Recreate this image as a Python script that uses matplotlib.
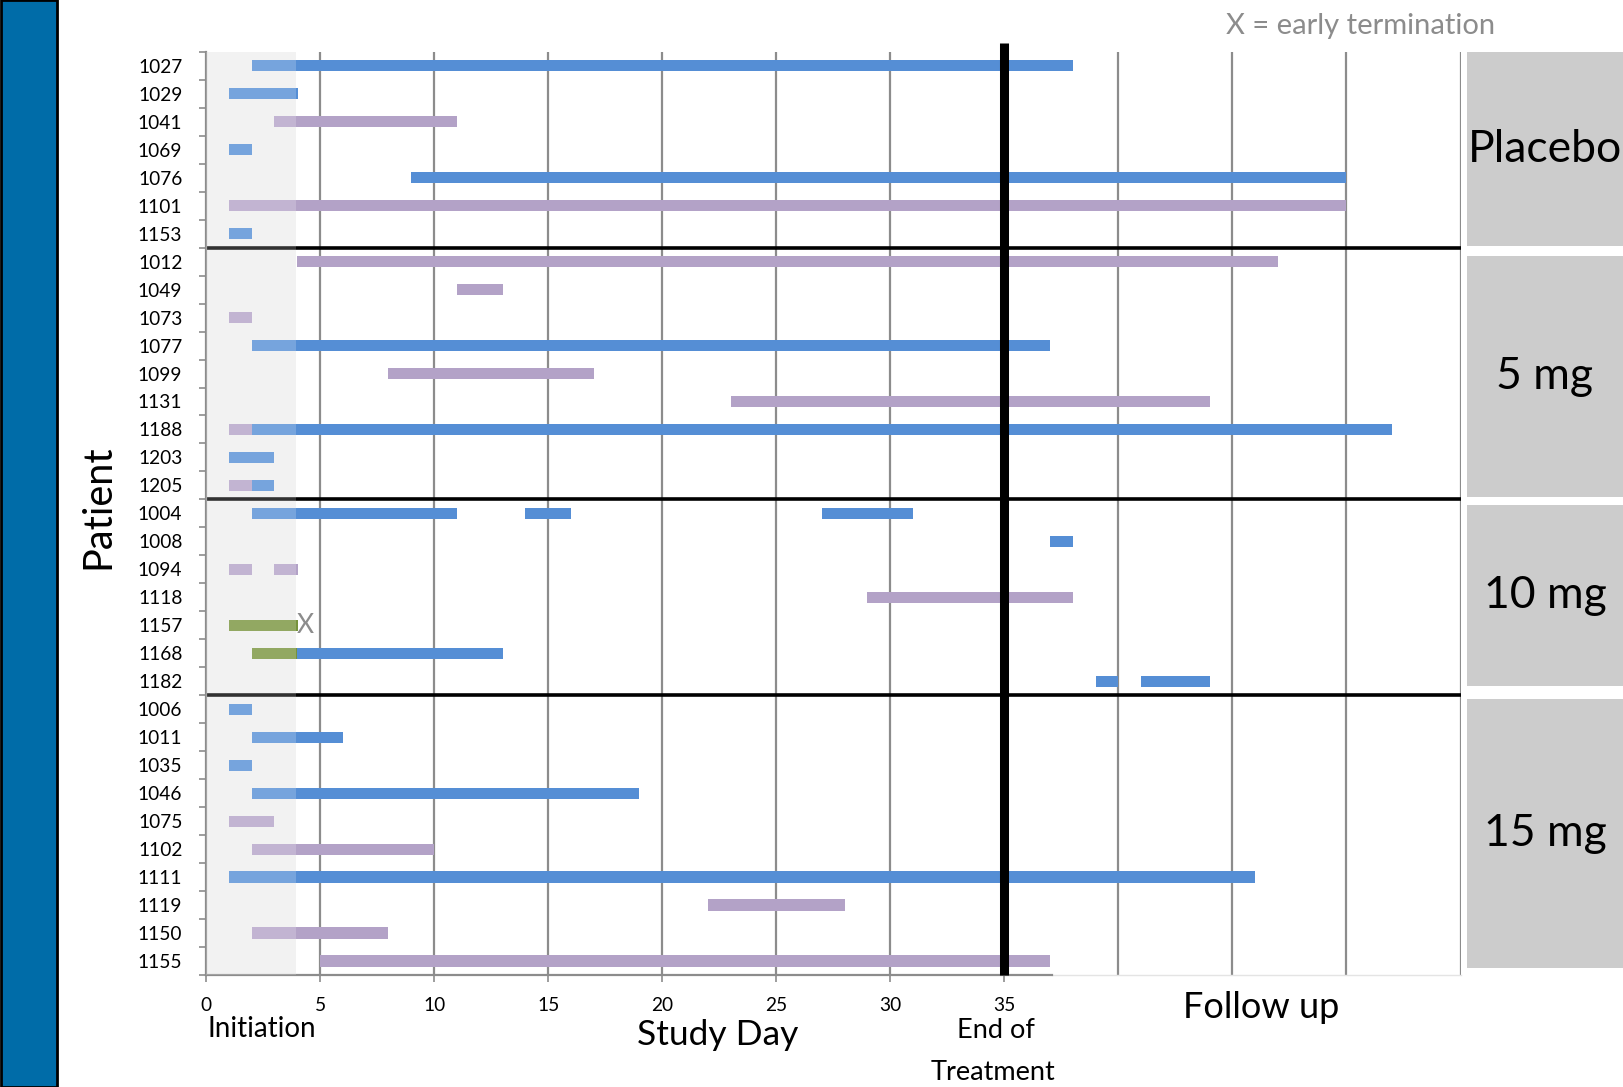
import matplotlib.pyplot as plt
from matplotlib.patches import Rectangle
import numpy as np

plt.rcParams['font.family'] = ['Lato', 'DejaVu Sans']

# patients in display order (top to bottom)
patients = ['1027', '1029', '1041', '1069', '1076', '1101', '1153',
            '1012', '1049', '1073', '1077', '1099', '1131', '1188', '1203', '1205',
            '1004', '1008', '1094', '1118', '1157', '1168', '1182',
            '1006', '1011', '1035', '1046', '1075', '1102', '1111', '1119', '1150', '1155']
groups = ['Placebo', '5 mg', '10 mg', '15 mg']
group_sizes = [7, 9, 7, 10]

# dosing segments: patient, start day, end day, colour kind
seg_patient = ['1027', '1029', '1041', '1069', '1076', '1101', '1153',
               '1012', '1049', '1073', '1077', '1099', '1131', '1188', '1188', '1203', '1205', '1205',
               '1004', '1004', '1004', '1008', '1094', '1094', '1118', '1157', '1168', '1168', '1182', '1182',
               '1006', '1011', '1035', '1046', '1075', '1102', '1111', '1119', '1150', '1155']
seg_start = [2, 1, 3, 1, 9, 1, 1,
             4, 11, 1, 2, 8, 23, 1, 2, 1, 1, 2,
             2, 14, 27, 37, 1, 3, 29, 1, 2, 4, 39, 41,
             1, 2, 1, 2, 1, 2, 1, 22, 2, 5]
seg_end = [38, 4.05, 11, 2, 50, 50, 2,
           47, 13, 2, 37, 17, 44, 2, 52, 3, 2, 3,
           11, 16, 31, 38, 2, 4.05, 38, 4.05, 4, 13, 40, 44,
           2, 6, 2, 19, 3, 10, 46, 28, 8, 37]
seg_kind = ['blue', 'blue', 'purple', 'blue', 'blue', 'purple', 'blue',
            'purple', 'purple', 'purple', 'blue', 'purple', 'purple', 'purple', 'blue', 'blue', 'purple', 'blue',
            'blue', 'blue', 'blue', 'blue', 'purple', 'purple', 'purple', 'green', 'green', 'blue', 'blue', 'blue',
            'blue', 'blue', 'blue', 'blue', 'purple', 'purple', 'blue', 'purple', 'purple', 'purple']

x_ticks = [0, 5, 10, 15, 20, 25, 30, 35]
grid_days = [5, 10, 15, 20, 25, 30, 35, 40, 45, 50, 55]
init_end = 3.95
eot_day = 35
early_term = ['1157']
early_term_day = 4.35

colors = {'blue': '#558ed5', 'purple': '#b3a2c7', 'green': '#77933c'}

W, H = 1623, 1087
fig = plt.figure(figsize=(W / 100, H / 100), dpi=100)

def fx(x):
    return x / W

def fy(y):
    return 1 - y / H

ax = fig.add_axes([fx(206), fy(975), (1460.5 - 206) / W, (975 - 51.8) / H])

ypos = {p: i for i, p in enumerate(patients)}
n = len(patients)

ax.axvspan(0, init_end, color='#f0f0f0', zorder=0, lw=0)
ax.vlines(grid_days, -0.5, n - 0.5, color='#8c8c8c', lw=1.6, zorder=1)

for p, s, e, k in zip(seg_patient, seg_start, seg_end, seg_kind):
    ax.barh(ypos[p], e - s, left=s, height=0.4, color=colors[k], zorder=2)

bounds = np.cumsum(group_sizes)[:-1] - 0.5
ax.hlines(bounds, 0, 55, color='black', lw=2.6, zorder=2.5)
# lighten everything inside the initiation window
ax.axvspan(0, init_end, color='white', alpha=0.2, zorder=3, lw=0)

ax.plot([eot_day, eot_day], [n - 0.5, -0.8], color='black', lw=6.5, zorder=4,
        clip_on=False, solid_capstyle='butt')

for p in early_term:
    ax.text(early_term_day, ypos[p], 'X', color='#8c8c8c', fontsize=19,
            ha='center', va='center', zorder=5)

ax.set_xlim(0, 55)
ax.set_ylim(n - 0.5, -0.5)
ax.set_yticks(range(n))
ax.set_yticklabels(patients, fontsize=13.8)
ax.set_yticks(np.arange(n + 1) - 0.5, minor=True)
ax.tick_params(axis='y', which='major', length=0, pad=17)
ax.tick_params(axis='y', which='minor', length=5, width=1.2, color='#8c8c8c')
ax.set_xticks(x_ticks)
ax.set_xticklabels([str(t) for t in x_ticks], fontsize=13.8)
ax.tick_params(axis='x', length=5, width=1.2, color='#8c8c8c', pad=11)

for side in ['top', 'right']:
    ax.spines[side].set_visible(False)
ax.spines['left'].set_color('#8c8c8c')
ax.spines['left'].set_linewidth(1.6)
ax.spines['bottom'].set_color('#8c8c8c')
ax.spines['bottom'].set_linewidth(1.6)
ax.spines['bottom'].set_bounds(0, 37.1)
ax.plot([37.1, 55], [n - 0.5, n - 0.5], color='#e4e4e4', lw=1, clip_on=False, zorder=1)

# left decorative stripe
fig.patches.append(Rectangle((fx(1), fy(1087)), 56 / W, 1, transform=fig.transFigure,
                             facecolor='#006ca8', edgecolor='black', lw=2))

# group label boxes on the right
box_tops = [52, 256, 505, 699]
box_bottoms = [246, 497, 686, 968]
for g, t, b in zip(groups, box_tops, box_bottoms):
    fig.patches.append(Rectangle((fx(1467), fy(b)), (W - 1467) / W, (b - t) / H,
                                 transform=fig.transFigure, facecolor='#cccccc', lw=0))
    fig.text(fx(1545), fy((t + b) / 2), g, fontsize=32, ha='center', va='center')

fig.text(fx(1361), fy(26), 'X = early termination', fontsize=21, color='#8c8c8c',
         ha='center', va='center')
fig.text(fx(98), fy(507), 'Patient', fontsize=28.5, rotation=90, ha='center', va='center')
fig.text(fx(718), fy(1035), 'Study Day', fontsize=25.5, ha='center', va='center')
fig.text(fx(262), fy(1029), 'Initiation', fontsize=20, ha='center', va='center')
fig.text(fx(996), fy(1031), 'End of', fontsize=19.5, ha='center', va='center')
fig.text(fx(993), fy(1073), 'Treatment', fontsize=19.5, ha='center', va='center')
fig.text(fx(1261), fy(1008), 'Follow up', fontsize=26, ha='center', va='center')

fig.savefig('out.png', dpi=100)
